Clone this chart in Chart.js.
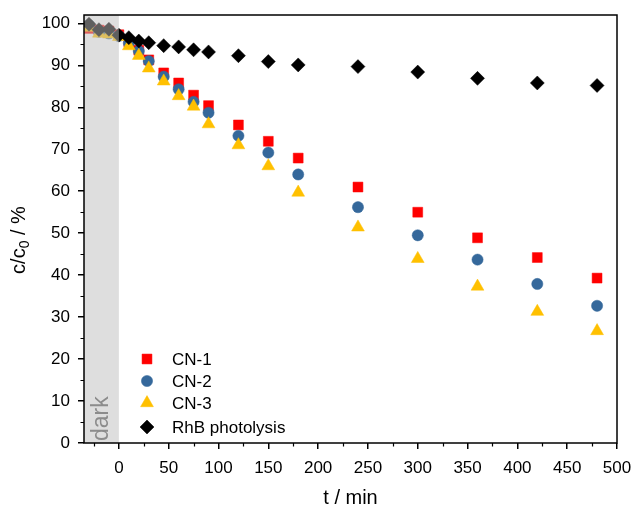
<!DOCTYPE html>
<html>
<head>
<meta charset="utf-8">
<script src="https://cdn.jsdelivr.net/npm/chart.js@4/dist/chart.umd.min.js"></script>
<style>
  html, body { margin: 0; padding: 0; background: #fff; }
</style>
</head>
<body>
<canvas id="degradationChart" width="634" height="510"></canvas>
<script>
// time points (min), negative = dark adsorption phase
var times = [-30, -20, -10, 0, 10, 20, 30, 45, 60, 75, 90, 120, 150, 180, 240, 300, 360, 420, 480];

// c/c0 in %
var cn1 = [98.8, 98.4, 98.2, 97.3, 95.6, 93.6, 91.3, 88.2, 85.8, 82.9, 80.4, 75.8, 71.9, 67.9, 61.0, 55.0, 48.9, 44.2, 39.3];
var cn2 = [99.6, 98.0, 97.6, 97.0, 95.3, 93.4, 91.0, 87.3, 84.3, 81.3, 78.7, 73.2, 69.2, 64.0, 56.2, 49.5, 43.7, 37.9, 32.7];
var cn3 = [99.0, 97.6, 97.4, 96.8, 94.6, 92.3, 89.3, 86.2, 82.7, 80.2, 76.0, 71.0, 66.0, 59.7, 51.4, 43.9, 37.3, 31.3, 26.7];
var rhb = [99.8, 98.5, 98.6, 97.2, 96.6, 95.8, 95.4, 94.7, 94.4, 93.7, 93.2, 92.3, 90.9, 90.1, 89.7, 88.4, 86.9, 85.8, 85.2];

var seriesNames = ["CN-1", "CN-2", "CN-3", "RhB photolysis"];

var xTicks = [0, 50, 100, 150, 200, 250, 300, 350, 400, 450, 500];
var xMinorTicks = [-25, 25, 75, 125, 175, 225, 275, 325, 375, 425, 475];
var yTicks = [0, 10, 20, 30, 40, 50, 60, 70, 80, 90, 100];
var yMinorTicks = [5, 15, 25, 35, 45, 55, 65, 75, 85, 95];

var fontFamily = "'Liberation Sans', Arial, sans-serif";

var toPoints = function(values) {
  return values.map(function(v, i) { return { x: times[i], y: v }; });
};

var styles = [
  { color: "#ff0000", shape: "rect", radius: 7 },
  { color: "#35689b", shape: "circle", radius: 5.6 },
  { color: "#ffc000", shape: "triangle", radius: 7.4 },
  { color: "#000000", shape: "rectRot", radius: 7 }
];

var makeDataset = function(i, values) {
  return {
    label: seriesNames[i],
    data: toPoints(values),
    pointStyle: styles[i].shape,
    pointRadius: styles[i].radius,
    pointBackgroundColor: styles[i].color,
    pointBorderColor: styles[i].color,
    pointBorderWidth: 0.5,
    showLine: false,
    order: 3 - i
  };
};

var drawMarker = function(ctx, style, x, y) {
  ctx.save();
  ctx.fillStyle = style.color;
  ctx.strokeStyle = style.color;
  ctx.lineWidth = 0.5;
  if (Chart.helpers && Chart.helpers.drawPoint) {
    Chart.helpers.drawPoint(ctx, { pointStyle: style.shape, radius: style.radius, borderWidth: 0.5, rotation: 0 }, x, y);
  } else {
    ctx.beginPath();
    ctx.arc(x, y, style.radius, 0, Math.PI * 2);
    ctx.fill();
  }
  ctx.restore();
};

var decorations = {
  id: "decorations",
  afterDatasetsDraw: function(chart) {
    var ctx = chart.ctx;
    var area = chart.chartArea;
    var x0 = chart.scales.x.getPixelForValue(0);
    ctx.save();
    // shaded dark phase, laid over the markers
    ctx.fillStyle = "rgba(190,190,190,0.5)";
    ctx.fillRect(area.left, area.top, x0 - area.left, area.bottom - area.top);
    ctx.translate(108, area.bottom - 2);
    ctx.rotate(-Math.PI / 2);
    ctx.font = "23px " + fontFamily;
    ctx.fillStyle = "#8c8c8c";
    ctx.textAlign = "left";
    ctx.textBaseline = "alphabetic";
    ctx.fillText("dark", 0, 0);
    ctx.restore();
  },
  afterDraw: function(chart) {
    var ctx = chart.ctx;
    var area = chart.chartArea;
    var xs = chart.scales.x;
    var ys = chart.scales.y;
    ctx.save();
    // frame
    ctx.strokeStyle = "#000";
    ctx.lineWidth = 1.5;
    ctx.strokeRect(area.left, area.top, area.right - area.left, area.bottom - area.top);
    // minor ticks
    ctx.lineWidth = 1.2;
    ctx.beginPath();
    xMinorTicks.forEach(function(v) {
      var px = Math.round(xs.getPixelForValue(v)) + 0.5;
      ctx.moveTo(px, area.bottom);
      ctx.lineTo(px, area.bottom + 3.5);
    });
    yMinorTicks.forEach(function(v) {
      var py = Math.round(ys.getPixelForValue(v)) + 0.5;
      ctx.moveTo(area.left, py);
      ctx.lineTo(area.left - 3.5, py);
    });
    ctx.stroke();

    // legend
    var legendY = [359, 381, 403, 427];
    ctx.font = "17px " + fontFamily;
    ctx.fillStyle = "#000";
    ctx.textAlign = "left";
    ctx.textBaseline = "middle";
    for (var i = 0; i < seriesNames.length; i++) {
      drawMarker(ctx, styles[i], 147, legendY[i]);
      ctx.fillStyle = "#000";
      ctx.fillText(seriesNames[i], 172, legendY[i] + 1);
    }

    // y axis title with subscript
    ctx.translate(19, 240);
    ctx.rotate(-Math.PI / 2);
    ctx.textBaseline = "middle";
    var big = "20px " + fontFamily;
    var small = "14px " + fontFamily;
    ctx.font = big;
    var w1 = ctx.measureText("c/c").width;
    var w3 = ctx.measureText(" / %").width;
    ctx.font = small;
    var w2 = ctx.measureText("0").width;
    var start = -(w1 + w2 + w3) / 2;
    ctx.font = big;
    ctx.fillText("c/c", start, 0);
    ctx.font = small;
    ctx.fillText("0", start + w1, 6);
    ctx.font = big;
    ctx.fillText(" / %", start + w1 + w2, 0);
    ctx.restore();
  }
};

var config = {
  type: "scatter",
  data: {
    datasets: [
      makeDataset(0, cn1),
      makeDataset(1, cn2),
      makeDataset(2, cn3),
      makeDataset(3, rhb)
    ]
  },
  options: {
    responsive: false,
    animation: false,
    layout: { padding: { top: 15, right: 17, left: 0, bottom: 0 } },
    plugins: {
      legend: { display: false },
      tooltip: { enabled: false },
      title: { display: false }
    },
    scales: {
      x: {
        type: "linear",
        min: -35,
        max: 500,
        afterBuildTicks: function(scale) {
          scale.ticks = xTicks.map(function(v) { return { value: v }; });
        },
        afterFit: function(scale) {
          scale.height = 67;
          scale.paddingLeft = 0;
          scale.paddingRight = 0;
        },
        border: { display: false },
        grid: { drawOnChartArea: false, drawTicks: true, tickLength: 6, color: "#000", lineWidth: 1.5 },
        ticks: { color: "#000", font: { size: 17, family: fontFamily }, padding: 9, maxRotation: 0 },
        title: { display: true, text: "t / min", color: "#000", font: { size: 20, family: fontFamily }, padding: { top: 4, bottom: 0 } }
      },
      y: {
        type: "linear",
        min: 0,
        max: 102,
        afterBuildTicks: function(scale) {
          scale.ticks = yTicks.map(function(v) { return { value: v }; });
        },
        afterFit: function(scale) {
          scale.width = 84;
          scale.paddingTop = 0;
          scale.paddingBottom = 0;
        },
        border: { display: false },
        grid: { drawOnChartArea: false, drawTicks: true, tickLength: 6, color: "#000", lineWidth: 1.5 },
        ticks: { color: "#000", font: { size: 17, family: fontFamily }, padding: 8 }
      }
    }
  },
  plugins: [decorations]
};

var degradationChart = new Chart(document.getElementById("degradationChart"), config);
</script>
</body>
</html>
